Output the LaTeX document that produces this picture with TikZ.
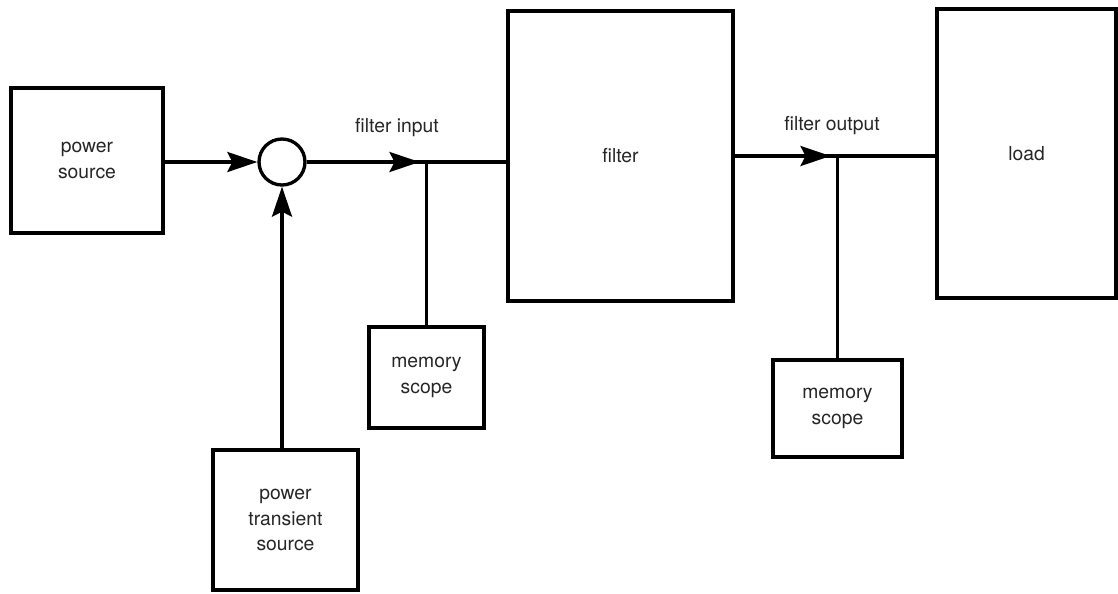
\documentclass[tikz,border=0pt]{standalone}
\usepackage{fontspec}
\setmainfont{TeX Gyre Heros}
\usetikzlibrary{arrows.meta}

\begin{document}
\begin{tikzpicture}[x=0.02cm, y=-0.02cm,
  blk/.style={draw, line width=1.9pt, align=center, inner sep=0pt, font=\fontsize{11}{14.5}\selectfont, text=black!85},
  wire/.style={line width=1.9pt},
  tip/.style={line width=1.9pt, -{Stealth[length=6mm, width=4mm, inset=1mm]}},
  lbl/.style={font=\fontsize{11}{14}\selectfont, text=black!85}]
\useasboundingbox (0,0) rectangle (1118,593);

\node[blk, minimum width=3.04cm, minimum height=2.9cm] (src) at (87,160.5) {power\\ source};
\node[draw, circle, line width=1.9pt, minimum size=0.92cm, inner sep=0pt] (sum) at (282,162) {};
\node[blk, minimum width=4.5cm, minimum height=5.8cm] (flt) at (620.5,156) {filter};
\node[blk, minimum width=3.58cm, minimum height=5.78cm] (load) at (1026.5,153.5) {load};
\node[blk, minimum width=2.3cm, minimum height=2.02cm] (scA) at (426.5,377.5) {memory\\ scope};
\node[blk, minimum width=2.58cm, minimum height=1.94cm] (scB) at (837.5,408.5) {memory\\ scope};
\node[blk, minimum width=2.9cm, minimum height=2.8cm] (trn) at (285.5,520) {power\\ transient\\ source};

\coordinate (tapA) at (scA.north |- sum.east);
\coordinate (tapB) at (scB.north |- flt.east);

\draw[tip] (src.east |- sum.west) -- (sum.west);
\draw[tip] (trn.north -| sum.south) -- (sum.south);
\draw[wire] (sum.east) -- (flt.west |- sum.east);
\draw[tip, shorten >=0.14cm] (sum.east) -- (tapA);
\draw[wire] (tapA) -- (scA.north);
\draw[wire] (flt.east) -- (load.west |- flt.east);
\draw[tip, shorten >=0.14cm] (flt.east) -- (tapB);
\draw[wire] (tapB) -- (scB.north);

\node[lbl] (lblIn) at (397,128) {filter input};
\node[lbl] (lblOut) at (832,126) {filter output};

\end{tikzpicture}
\end{document}
